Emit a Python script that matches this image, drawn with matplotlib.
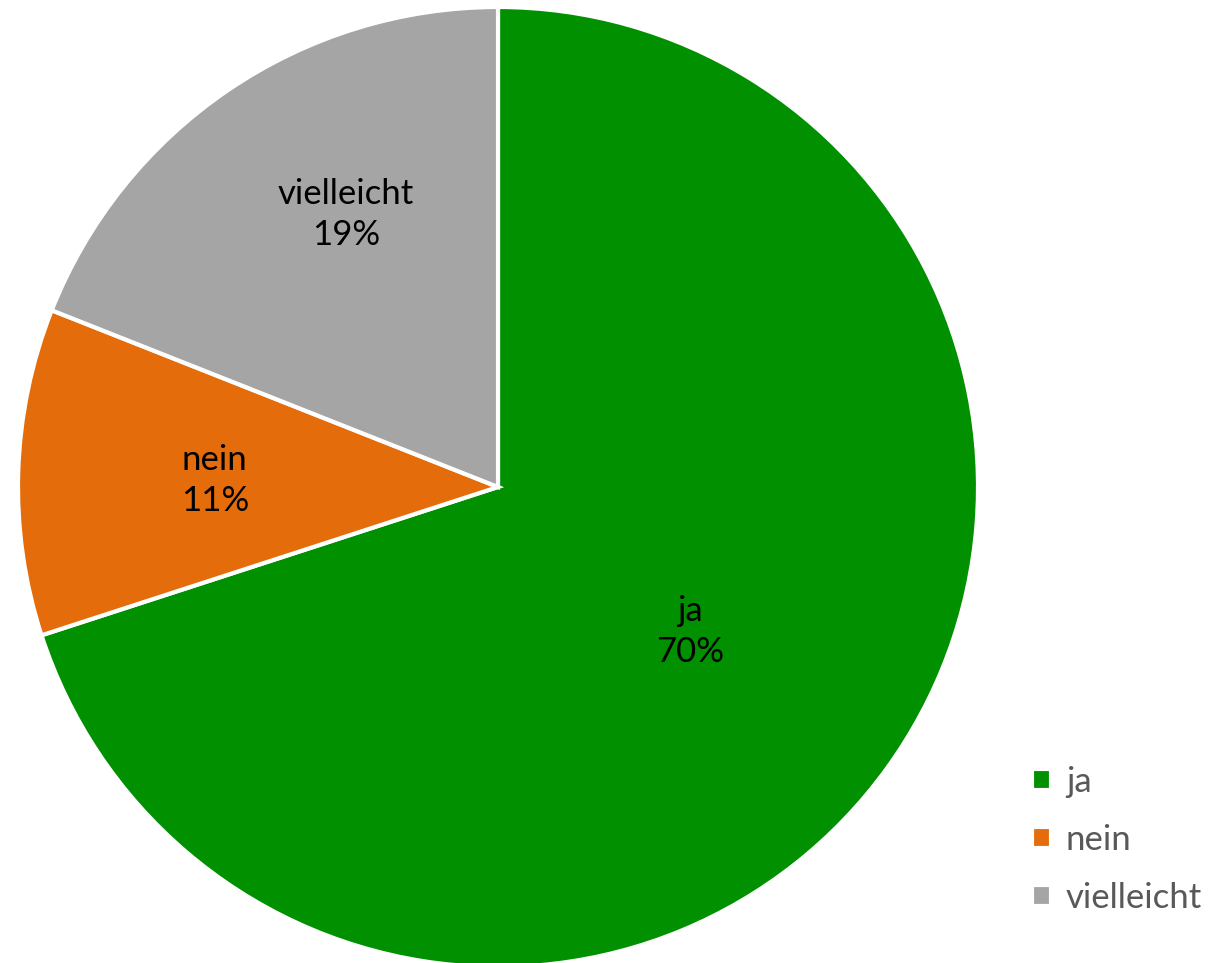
import matplotlib.pyplot as plt
import numpy as np

labels = ['ja', 'nein', 'vielleicht']
values = [70, 11, 19]
colors = ['#009000', '#E46C0A', '#A5A5A5']
# Excel puts the data labels at different spots, not always on the mid-angle
label_r = [0.50, 0.59, 0.65]
label_dang = [-1, 0.5, -5]

plt.rcParams['font.family'] = ['Lato', 'DejaVu Sans']

fig = plt.figure(figsize=(12.13, 9.63), dpi=100)
cx, cy, R = 498, 476, 480
ax = fig.add_axes([(cx-R)/1213, (cy-R)/963, 2*R/1213, 2*R/963])
wedges, _ = ax.pie(values, colors=colors, startangle=90, counterclock=False,
                   wedgeprops=dict(edgecolor='white', linewidth=3))
ax.set_xlim(-1, 1)
ax.set_ylim(-1, 1)
ax.set_aspect('equal')

for w, lab, v, r, da in zip(wedges, labels, values, label_r, label_dang):
    ang = np.deg2rad((w.theta1 + w.theta2)/2 + da)
    ax.text(r*np.cos(ang), r*np.sin(ang), '%s\n%d%%' % (lab, v),
            ha='center', va='center', fontsize=25, color='black', linespacing=1.35)

fig.legend(wedges, labels, loc='lower right', bbox_to_anchor=(1.011, 0.026),
           frameon=False, fontsize=25, labelcolor='#595959', borderaxespad=0.3,
           handlelength=0.55, handleheight=0.55, handletextpad=0.43, labelspacing=0.75)

fig.savefig('out.png', dpi=100)
